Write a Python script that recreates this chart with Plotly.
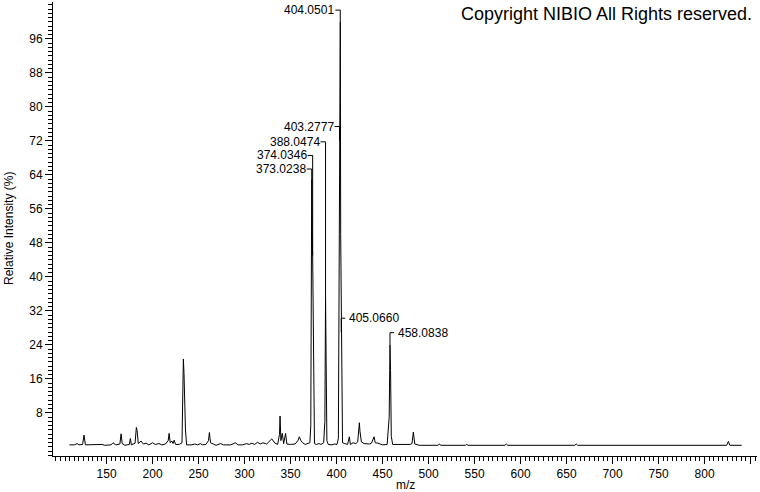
import plotly.graph_objects as go

# ---- spectrum profile (m/z, relative intensity %) ----
mz = [109.6, 115, 118, 120, 124, 125.5, 127, 135, 140, 145, 148, 155, 157, 160,
      164.5, 165.8, 167, 170, 174.8, 175.9, 177, 181, 182.4, 183.2, 184.5, 187.5,
      190, 193, 196, 200, 203, 207, 210, 214, 217, 218, 219.2, 221, 222.3, 223.5,
      225, 229, 232, 232.8, 233.5, 234.2, 234.9, 235.8, 237, 242, 246, 249, 252,
      254, 258, 260.8, 261.8, 263, 266, 269, 274, 277, 285, 290, 293, 298, 302,
      305, 308, 311, 314, 317, 320, 324, 329.6, 333, 336, 338, 338.6, 339.5, 341,
      342.5, 344.6, 346, 350, 355, 358, 359.6, 361, 363, 366, 369, 371, 372,
      373.02, 373.5, 374.03, 375, 376, 378, 381, 383, 386, 387.3, 388.05, 388.7,
      389.5, 391, 395, 398, 400.5, 402, 403.28, 403.6, 404.05, 404.5, 405.07,
      405.7, 406.5, 409, 412, 413.9, 415, 418, 421, 423, 424.8, 425.5, 427, 430,
      433, 436, 438, 440.8, 442, 445, 450, 455, 457.2, 458.08, 458.7, 459.5, 461,
      470, 480, 482, 483.5, 485, 490, 510, 512, 513, 540, 541.5, 543, 583, 584.5,
      586, 659, 660.5, 662, 824, 825.9, 827.5, 840.4]
intensity = [0.5, 0.5, 0.8, 0.5, 0.6, 2.8, 0.5, 0.5, 0.5, 0.6, 0.4, 0.5, 1.0, 0.5,
             0.7, 3.1, 0.8, 0.4, 0.6, 2.0, 0.5, 0.9, 4.6, 3.9, 0.8, 1.4,
             0.7, 0.9, 0.5, 1.0, 0.6, 0.8, 0.5, 0.7, 1.5, 3.2, 1.0, 1.4, 0.8, 1.6,
             0.6, 0.6, 1.0, 8.0, 20.7, 17.3, 10.7, 4.0, 0.5, 0.5, 0.7, 0.5, 0.8,
             0.5, 0.6, 1.5, 3.4, 1.0, 0.7, 0.4, 0.8, 0.5, 0.5, 1.0, 0.5, 0.5, 0.8,
             0.6, 0.9, 0.6, 1.1, 0.7, 1.0, 0.7, 1.9, 0.9, 0.6, 3.0, 7.3, 1.5, 3.2,
             0.8, 3.2, 0.7, 0.6, 0.7, 1.5, 2.4, 1.6, 1.0, 0.6, 0.8, 1.0, 5.0,
             63.0, 50.0, 45.0, 8.0, 0.8, 0.6, 0.8, 0.6, 1.0, 6.0, 35.0, 20.0,
             1.5, 0.6, 0.5, 0.7, 0.6, 2.0, 72.0, 60.0, 100.0, 50.0, 27.0,
             5.0, 1.0, 0.8, 0.6, 2.4, 0.6, 1.0, 0.8, 1.2, 5.7, 3.6, 1.2, 0.8,
             0.7, 0.7, 0.9, 2.4, 1.0, 0.9, 0.5, 0.6, 7.0, 24.0, 18.0, 2.5, 0.6,
             0.6, 0.6, 0.8, 3.5, 0.7, 0.4, 0.4, 0.7, 0.4, 0.4, 0.6, 0.4, 0.4, 0.7,
             0.4, 0.4, 0.7, 0.4, 0.4, 1.3, 0.4, 0.4]

# ---- peak labels ----
label_mz = [404.0501, 403.2777, 388.0474, 374.0346, 373.0238, 405.0660, 458.0838]
label_text = ["404.0501", "403.2777", "388.0474", "374.0346", "373.0238",
              "405.0660", "458.0838"]
label_peak = [100.0, 72.0, 35.0, 45.0, 63.0, 27.0, 24.0]
label_level = [102.8, 75.4, 71.8, 68.6, 65.4, 30.3, 26.9]
label_side = ["left", "left", "left", "left", "left", "right", "right"]

# ---- axis ticks ----
x_tickvals = [150, 200, 250, 300, 350, 400, 450, 500, 550, 600, 650, 700, 750, 800, 850]
y_tickvals = [8, 16, 24, 32, 40, 48, 56, 64, 72, 80, 88, 96]

FONT = "Liberation Sans, Arial, sans-serif"

fig = go.Figure()
fig.add_trace(go.Scatter(x=mz, y=intensity, mode="lines",
                         line=dict(color="black", width=1), hoverinfo="skip",
                         showlegend=False))

shapes = []
annotations = []
for m, t, p, lv, side in zip(label_mz, label_text, label_peak, label_level, label_side):
    shapes.append(dict(type="line", xref="x", yref="y", x0=m, x1=m, y0=p, y1=lv,
                       line=dict(color="black", width=1)))
    if side == "left":
        shapes.append(dict(type="line", xref="x", yref="y", xsizemode="pixel",
                           xanchor=m, x0=-5, x1=0, y0=lv, y1=lv,
                           line=dict(color="black", width=1)))
        annotations.append(dict(x=m, y=lv, xref="x", yref="y", text=t,
                                showarrow=False, xanchor="right", yanchor="middle",
                                xshift=-4, font=dict(family=FONT, size=12, color="black")))
    else:
        shapes.append(dict(type="line", xref="x", yref="y", xsizemode="pixel",
                           xanchor=m, x0=0, x1=4, y0=lv, y1=lv,
                           line=dict(color="black", width=1)))
        annotations.append(dict(x=m, y=lv, xref="x", yref="y", text=t,
                                showarrow=False, xanchor="left", yanchor="middle",
                                xshift=6, font=dict(family=FONT, size=12, color="black")))

annotations.append(dict(x=1, y=1, xref="paper", yref="paper",
                        text="Copyright NIBIO All Rights reserved.", showarrow=False,
                        xanchor="right", yanchor="middle", xshift=-3, yshift=-12,
                        font=dict(family=FONT, size=18, color="black")))
annotations.append(dict(x=0.5, y=0, xref="paper", yref="paper", text="m/z",
                        showarrow=False, xanchor="center", yanchor="middle",
                        yshift=-29, font=dict(family=FONT, size=12, color="black")))
annotations.append(dict(x=0, y=0.5, xref="paper", yref="paper",
                        text="Relative Intensity (%)", showarrow=False, textangle=-90,
                        xanchor="center", yanchor="middle", xshift=-44,
                        font=dict(family=FONT, size=12, color="black")))

fig.update_layout(
    width=760, height=492,
    margin=dict(l=53, r=3, t=2, b=36),
    paper_bgcolor="white", plot_bgcolor="white",
    font=dict(family=FONT, size=12, color="black"),
    shapes=shapes, annotations=annotations,
    xaxis=dict(range=[91.8, 857], showgrid=False, zeroline=False,
               showline=True, linecolor="black", linewidth=1,
               ticks="outside", ticklen=7, tickcolor="black", tickwidth=1,
               tickmode="array", tickvals=x_tickvals,
               ticktext=[str(v) for v in x_tickvals],
               tickfont=dict(family=FONT, size=12, color="black"),
               minor=dict(tickmode="linear", tick0=0, dtick=5, ticks="outside",
                          ticklen=4, tickcolor="black", tickwidth=1, showgrid=False)),
    yaxis=dict(range=[-2.12, 104.7], showgrid=False, zeroline=False,
               showline=True, linecolor="black", linewidth=1,
               ticks="outside", ticklen=7, tickcolor="black", tickwidth=1,
               tickmode="array", tickvals=y_tickvals,
               ticktext=[str(v) for v in y_tickvals],
               tickfont=dict(family=FONT, size=12, color="black"),
               minor=dict(tickmode="linear", tick0=0, dtick=1, ticks="outside",
                          ticklen=4, tickcolor="black", tickwidth=1, showgrid=False)),
)

fig.write_html("out.html", config={"displayModeBar": False},
               post_script="document.body.style.margin='0';document.body.style.padding='0';")
